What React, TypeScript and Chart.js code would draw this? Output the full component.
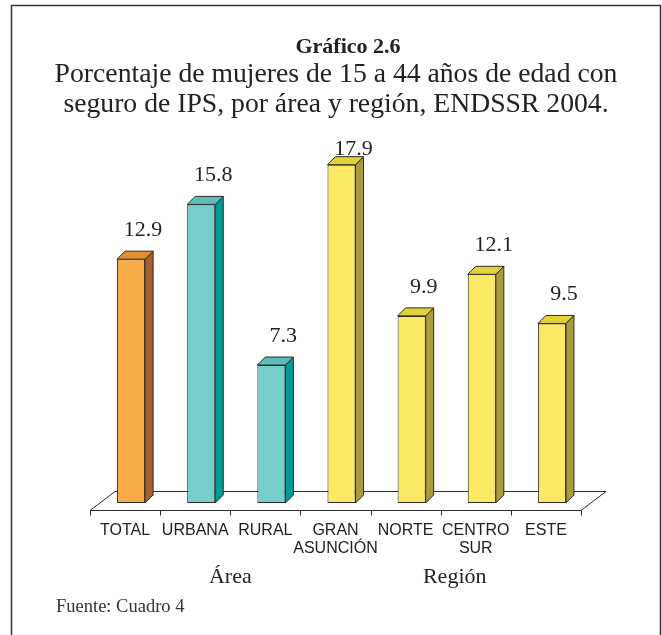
import { useEffect, useRef } from 'react';
import { Chart, registerables } from 'chart.js';

Chart.register(...registerables);

// ---- data ----
const categories: string[][] = [
  ['TOTAL'],
  ['URBANA'],
  ['RURAL'],
  ['GRAN', 'ASUNCIÓN'],
  ['NORTE'],
  ['CENTRO', 'SUR'],
  ['ESTE'],
];
const values: number[] = [12.9, 15.8, 7.3, 17.9, 9.9, 12.1, 9.5];
const groupOf: string[] = ['total', 'area', 'area', 'region', 'region', 'region', 'region'];
const groupLabels: string[] = ['Área', 'Región'];
const groupSpans: number[][] = [
  [1, 2],
  [3, 6],
];
const titleText = 'Gráfico 2.6';
const subtitleLines: string[] = [
  'Porcentaje de mujeres de 15 a 44 años de edad con',
  'seguro de IPS, por área y región, ENDSSR 2004.',
];
const sourceText = 'Fuente: Cuadro 4';

// ---- styles ----
const palette: Record<string, { front: string; side: string; cap: string }> = {
  total: { front: '#F9AB47', side: '#A5612E', cap: '#E48F2F' },
  area: { front: '#76CDC9', side: '#00999A', cap: '#5CBDB9' },
  region: { front: '#FBE964', side: '#A99C3B', cap: '#E3D13A' },
};
const SERIF = "'Liberation Serif', 'Times New Roman', serif";
const SANS = "'Liberation Sans', Arial, sans-serif";
const INK = '#222222';
const EDGE = '#2b2b2b';

const W = 662;
const H = 635;

const decoPlugin = {
  id: 'deco',
  beforeDraw(chart: any) {
    const ctx = chart.ctx as CanvasRenderingContext2D;
    ctx.save();
    ctx.fillStyle = '#ffffff';
    ctx.fillRect(0, 0, W, H);
    // frame
    ctx.strokeStyle = '#333333';
    ctx.lineWidth = 1.5;
    ctx.beginPath();
    ctx.moveTo(11.5, H);
    ctx.lineTo(11.5, 5.5);
    ctx.lineTo(660.5, 5.5);
    ctx.lineTo(660.5, H);
    ctx.stroke();
    // titles
    ctx.fillStyle = INK;
    ctx.textAlign = 'center';
    ctx.textBaseline = 'alphabetic';
    ctx.font = `bold 22px ${SERIF}`;
    ctx.fillText(titleText, 348, 53);
    ctx.font = `27.7px ${SERIF}`;
    subtitleLines.forEach((l, i) => ctx.fillText(l, 336, 82 + i * 29.5));
    // source
    ctx.textAlign = 'left';
    ctx.font = `18.5px ${SERIF}`;
    ctx.fillStyle = '#333333';
    ctx.fillText(sourceText, 56, 612);
    ctx.restore();
  },
  beforeDatasetsDraw(chart: any) {
    const ctx = chart.ctx as CanvasRenderingContext2D;
    const xs = chart.scales.x;
    const ys = chart.scales.y;
    const y0 = ys.getPixelForValue(0);
    const fx0 = xs.left - 6;
    const fx1 = xs.right - 6;
    const fy = Math.round(y0 + 7) + 0.5;
    const dx = 25;
    const dy = -19;
    ctx.save();
    // floor
    ctx.fillStyle = '#ffffff';
    ctx.strokeStyle = EDGE;
    ctx.lineWidth = 1;
    ctx.beginPath();
    ctx.moveTo(fx0, fy);
    ctx.lineTo(fx0 + dx, fy + dy);
    ctx.lineTo(fx1 + dx, fy + dy);
    ctx.lineTo(fx1, fy);
    ctx.closePath();
    ctx.fill();
    ctx.stroke();
    // ticks on the front edge
    const n = categories.length;
    for (let k = 0; k <= n; k++) {
      const tx = Math.round(fx0 + (k * (fx1 - fx0)) / n) + 0.5;
      ctx.beginPath();
      ctx.moveTo(tx, fy);
      ctx.lineTo(tx, fy + 5);
      ctx.stroke();
    }
    // category labels
    ctx.fillStyle = INK;
    ctx.textAlign = 'center';
    ctx.textBaseline = 'alphabetic';
    ctx.font = `16px ${SANS}`;
    categories.forEach((lines, i) => {
      const cx = xs.getPixelForValue(i) - 6;
      lines.forEach((l, j) => ctx.fillText(l, cx, fy + 24 + j * 18));
    });
    // group labels
    ctx.font = `22px ${SERIF}`;
    const groupShift = [0, 14];
    groupLabels.forEach((g, i) => {
      const [a, b] = groupSpans[i];
      const cx = (xs.getPixelForValue(a) + xs.getPixelForValue(b)) / 2 - 6 + groupShift[i];
      ctx.fillText(g, cx, fy + 72);
    });
    ctx.restore();
  },
  afterDatasetsDraw(chart: any) {
    const ctx = chart.ctx as CanvasRenderingContext2D;
    const meta = chart.getDatasetMeta(0);
    const d = 8;
    ctx.save();
    ctx.strokeStyle = EDGE;
    ctx.lineWidth = 1;
    ctx.lineJoin = 'miter';
    meta.data.forEach((el: any, i: number) => {
      const p = el.getProps(['x', 'y', 'base', 'width'], true);
      const l = p.x - p.width / 2;
      const r = p.x + p.width / 2;
      const top = p.y;
      const base = p.base;
      const col = palette[groupOf[i]];
      // side
      ctx.fillStyle = col.side;
      ctx.beginPath();
      ctx.moveTo(r, top);
      ctx.lineTo(r + d, top - d);
      ctx.lineTo(r + d, base - d);
      ctx.lineTo(r, base);
      ctx.closePath();
      ctx.fill();
      ctx.stroke();
      // cap
      ctx.fillStyle = col.cap;
      ctx.beginPath();
      ctx.moveTo(l, top);
      ctx.lineTo(l + d, top - d);
      ctx.lineTo(r + d, top - d);
      ctx.lineTo(r, top);
      ctx.closePath();
      ctx.fill();
      ctx.stroke();
      // value label
      ctx.fillStyle = INK;
      ctx.textAlign = 'center';
      ctx.textBaseline = 'alphabetic';
      ctx.font = `22px ${SERIF}`;
      const by = Math.max(top - 23, 155);
      ctx.fillText(values[i].toFixed(1), p.x + 12, by);
    });
    ctx.restore();
  },
};

export default function App() {
  const ref = useRef<HTMLCanvasElement | null>(null);
  useEffect(() => {
    if (!ref.current) return;
    const chart = new Chart(ref.current, {
      type: 'bar',
      data: {
        labels: categories.map((c) => c.join(' ')),
        datasets: [
          {
            data: values,
            backgroundColor: groupOf.map((g) => palette[g].front),
            borderColor: EDGE,
            borderWidth: 1,
            borderSkipped: false,
            categoryPercentage: 1,
            barPercentage: 0.4,
          },
        ],
      },
      options: {
        responsive: false,
        animation: false,
        devicePixelRatio: 1,
        layout: { padding: { top: 125, bottom: 132, left: 96, right: 75 } },
        plugins: { legend: { display: false }, tooltip: { enabled: false } },
        scales: {
          x: { display: false, offset: true },
          y: { display: false, min: 0, max: 20 },
        },
      },
      plugins: [decoPlugin],
    });
    return () => chart.destroy();
  }, []);
  return (
    <div style={{ position: 'fixed', left: 0, top: 0, width: W, height: H, background: '#fff' }}>
      <canvas ref={ref} width={W} height={H} style={{ display: 'block', width: W, height: H }} />
    </div>
  );
}
